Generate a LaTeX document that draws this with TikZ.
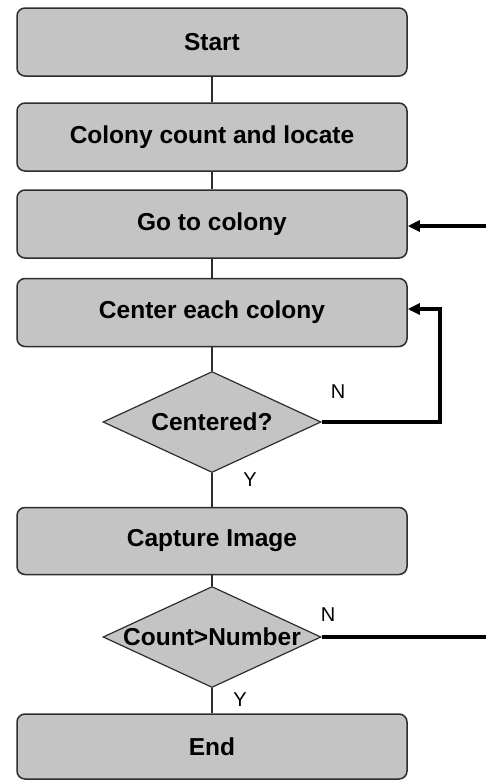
\documentclass[tikz,border=0pt]{standalone}
\usepackage{fontspec}
\setmainfont{Liberation Sans}
\usetikzlibrary{shapes.geometric,arrows.meta}
\definecolor{boxfill}{RGB}{196,196,196}
\definecolor{boxline}{RGB}{45,45,45}
\tikzset{
  stepbox/.style={draw=boxline, line width=1.5pt, fill=boxfill, rounded corners=8pt,
    minimum width=390pt, minimum height=68pt, inner sep=0pt,
    font=\fontsize{24.5}{28}\selectfont\bfseries},
  decbox/.style={draw=boxline, line width=1.2pt, fill=boxfill, diamond, inner sep=0pt,
    minimum width=218pt, minimum height=101pt},
  dectext/.style={font=\fontsize{24.5}{28}\selectfont\bfseries, inner sep=0pt},
  thinline/.style={draw=boxline, line width=1.5pt},
  thickline/.style={draw=black, line width=3.2pt},
  thickarrow/.style={thickline, -{Triangle[length=12pt,width=11pt]}},
  lbl/.style={font=\fontsize{20}{23}\selectfont, inner sep=0pt},
}
\begin{document}
\begin{tikzpicture}[x=1pt,y=-1pt]
\useasboundingbox (0,0) rectangle (486,780);
\node[stepbox] (start) at (212,42) {Start};
\node[stepbox] (count) at (212,137) {Colony count and locate};
\node[stepbox] (goto) at (212,224) {Go to colony};
\node[stepbox] (center) at (212,312.5) {Center each colony};
\node[decbox] (d1) at (212,422) {};
\node[dectext] (d1t) at (d1) {Centered?};
\node[stepbox, minimum height=67pt] (capture) at (212,541) {Capture Image};
\node[decbox] (d2) at (212,637) {};
\node[dectext] (d2t) at (d2) {Count>Number};
\node[stepbox, minimum height=65pt] (end) at (212,746.5) {End};

\coordinate (r1) at (440,422);
\coordinate (r2) at (440,309);
\coordinate (e1) at (488,637);
\coordinate (e2) at (488,226);

\draw[thinline] (start.south) -- (count.north);
\draw[thinline] (count.south) -- (goto.north);
\draw[thinline] (goto.south) -- (center.north);
\draw[thinline] (center.south) -- (d1.north);
\draw[thinline] (d1.south) -- (capture.north);
\draw[thinline] (capture.south) -- (d2.north);
\draw[thinline] (d2.south) -- (end.north);

\draw[thickarrow] (d1.east) -- (r1) -- (r2) -- (center.east |- r2);
\draw[thickline] (d2.east) -- (e1);
\draw[thickarrow] (e2) -- (goto.east |- e2);

\node[lbl] (n1) at (338,392) {N};
\node[lbl] (y1) at (250,480) {Y};
\node[lbl] (n2) at (328,615) {N};
\node[lbl] (y2) at (240,700) {Y};
\end{tikzpicture}
\end{document}
